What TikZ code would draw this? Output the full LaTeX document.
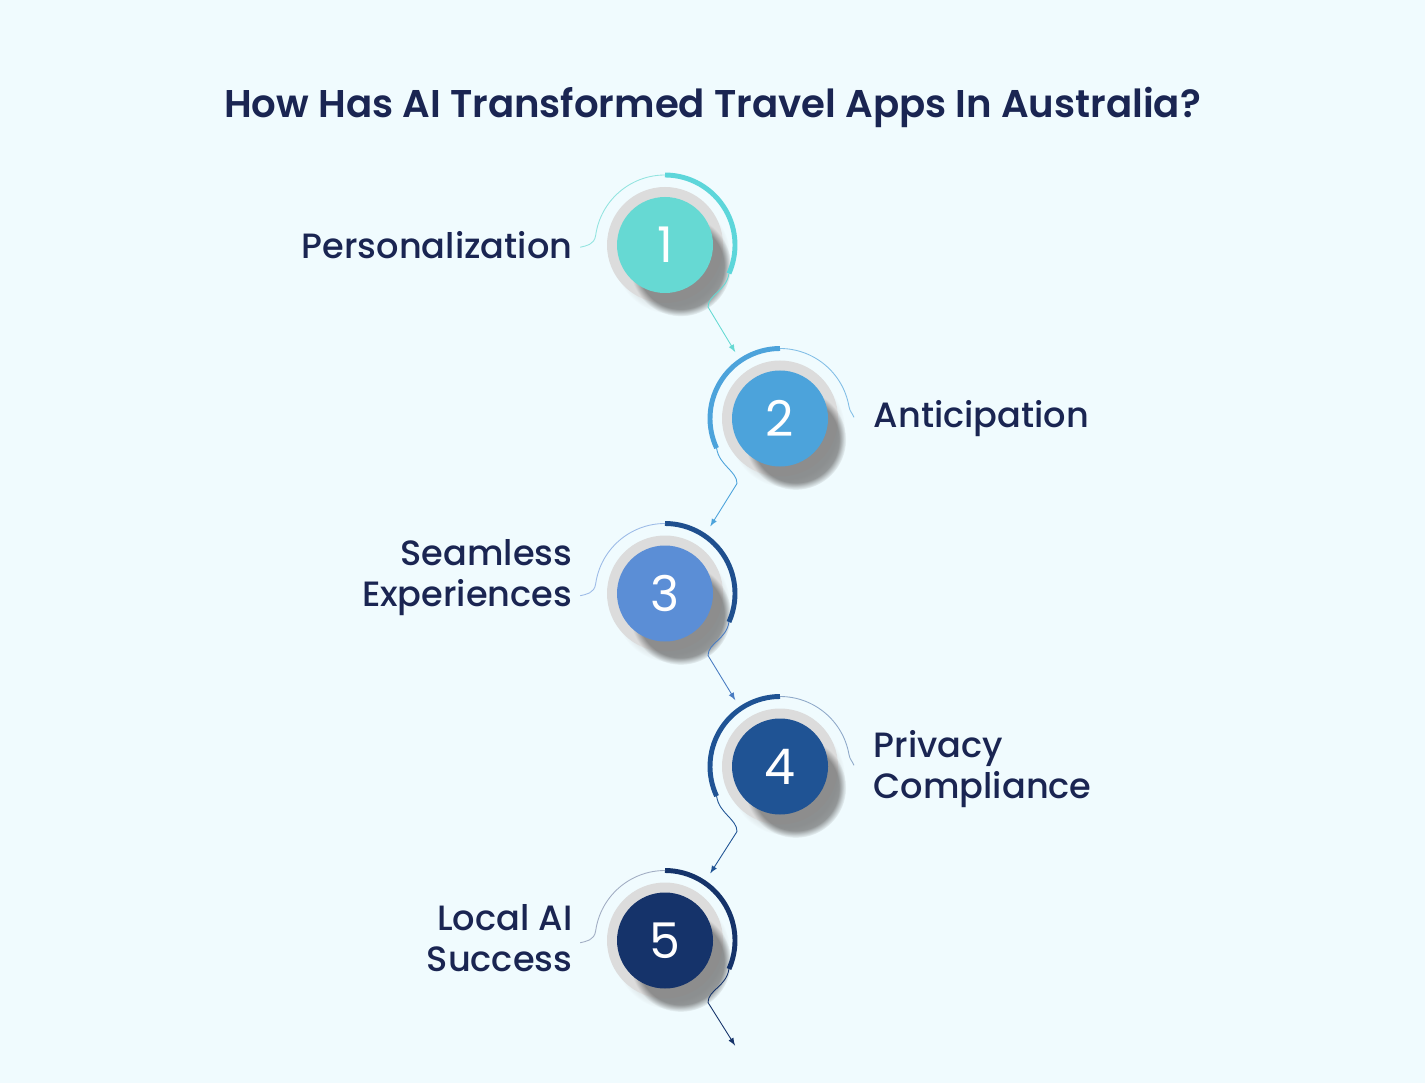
\documentclass[tikz,border=0pt]{standalone}
\usepackage{fontspec}
\setmainfont{Poppins}[UprightFont=* Medium, BoldFont=* SemiBold]
\newfontfamily\numfont{Poppins}
\usetikzlibrary{positioning, calc, shadows, arrows}
\definecolor{bgcol}{HTML}{F0FBFE}
\definecolor{navy}{HTML}{1A2552}
\definecolor{ringgray}{HTML}{DCDCDC}
\definecolor{colone}{HTML}{66D9D3}
\definecolor{arcone}{HTML}{5DD6DA}
\definecolor{coltwo}{HTML}{4CA3DB}
\definecolor{colthree}{HTML}{5B8ED6}
\definecolor{arcthree}{HTML}{1F4F8E}
\definecolor{colfour}{HTML}{1F5394}
\definecolor{colfive}{HTML}{15336A}
\tikzstyle{ring} = [circle, fill=ringgray, minimum size=2.32cm, inner sep=0pt, circular drop shadow={shadow xshift=.14cm, shadow yshift=-.22cm, shadow scale=1, opacity=.35, fill=black!30}]
\tikzstyle{disc} = [circle, minimum size=1.92cm, inner sep=0pt, text=white, font=\numfont\fontsize{28}{28}\selectfont, circular drop shadow={shadow xshift=.3cm, shadow yshift=-.4cm, shadow scale=1.05, opacity=.6, fill=black!65}]
\tikzstyle{lefttext} = [align=right, text=navy, inner sep=0pt, font=\fontsize{20}{23.4}\selectfont]
\tikzstyle{righttext} = [align=left, text=navy, inner sep=0pt, font=\fontsize{20}{23.4}\selectfont]
\tikzstyle{bigarc} = [line width=2.8pt]
\tikzstyle{thinarc} = [line width=0.5pt]
\tikzstyle{arrow} = [line width=0.5pt, ->, >=latex]

\begin{document}
\begin{tikzpicture}

\fill [bgcol] (0,0) rectangle (28.5,-21.66);
\useasboundingbox (0,0) rectangle (28.5,-21.66);

\node (title) at (14.25,-2.14) [text=navy, font=\bfseries\fontsize{22}{26}\selectfont] {How Has AI Transformed Travel Apps In Australia?};

\node (ring1) at (13.3,-4.9) [ring] {};
\node (c1) at (ring1) [disc, fill=colone] {1};
\node (ring2) [ring, on grid, below right=3.47cm and 2.3cm of ring1] {};
\node (c2) at (ring2) [disc, fill=coltwo] {2};
\node (ring3) [ring, on grid, below left=3.5cm and 2.3cm of ring2] {};
\node (c3) at (ring3) [disc, fill=colthree] {3};
\node (ring4) [ring, on grid, below right=3.46cm and 2.3cm of ring3] {};
\node (c4) at (ring4) [disc, fill=colfour] {4};
\node (ring5) [ring, on grid, below left=3.48cm and 2.3cm of ring4] {};
\node (c5) at (ring5) [disc, fill=colfive] {5};

\node (t1) [lefttext, left=0.88cm of c1] {Personalization};
\node (t2) [righttext, right=0.9cm of c2] {Anticipation};
\node (t3) [lefttext, left=0.88cm of c3, yshift=0.32cm] {Seamless\\Experiences};
\node (t4) [righttext, right=0.9cm of c4, yshift=-0.06cm] {Privacy\\Compliance};
\node (t5) [lefttext, left=0.88cm of c5, yshift=0.04cm] {Local AI\\Success};

% arcs round the discs
\draw [bigarc, arcone] ($(c1)+(90:1.4)$) arc (90:-24:1.4);
\draw [thinarc, colone!70] ($(c1)+(90:1.4)$) arc (90:172:1.4) .. controls +(-98:0.2) and +(15:0.12) .. ++(-0.31,-0.24);
\draw [bigarc, coltwo] ($(c2)+(90:1.4)$) arc (90:205:1.4);
\draw [thinarc, coltwo!70] ($(c2)+(90:1.4)$) arc (90:10:1.4) .. controls +(-80:0.12) and +(110:0.1) .. ++(0.1,-0.22);
\draw [bigarc, arcthree] ($(c3)+(90:1.4)$) arc (90:-24:1.4);
\draw [thinarc, colthree!60] ($(c3)+(90:1.4)$) arc (90:172:1.4) .. controls +(-98:0.2) and +(15:0.12) .. ++(-0.31,-0.24);
\draw [bigarc, colfour] ($(c4)+(90:1.4)$) arc (90:205:1.4);
\draw [thinarc, colfour!50] ($(c4)+(90:1.4)$) arc (90:10:1.4) .. controls +(-80:0.12) and +(110:0.1) .. ++(0.1,-0.22);
\draw [bigarc, colfive] ($(c5)+(90:1.4)$) arc (90:-24:1.4);
\draw [thinarc, colfive!40] ($(c5)+(90:1.4)$) arc (90:172:1.4) .. controls +(-98:0.2) and +(15:0.12) .. ++(-0.31,-0.24);

\coordinate (e1) at ($(c1)+(-24:1.4)$);
\coordinate (w1) at ($(c1)+(0.86,-1.24)$);
\coordinate (e2) at ($(c2)+(205:1.4)$);
\coordinate (w2) at ($(c2)+(-0.86,-1.3)$);
\coordinate (e3) at ($(c3)+(-24:1.4)$);
\coordinate (w3) at ($(c3)+(0.86,-1.24)$);
\coordinate (e4) at ($(c4)+(205:1.4)$);
\coordinate (w4) at ($(c4)+(-0.86,-1.3)$);
\coordinate (e5) at ($(c5)+(-24:1.4)$);
\coordinate (w5) at ($(c5)+(0.86,-1.24)$);
\coordinate (tend) at ($(c5)+(1.4,-2.1)$);

\draw [arrow, colone] (e1) .. controls +(-0.05,-0.35) and +(0,0.25) .. (w1) -- ($(c2)+(124:1.6)$);
\draw [arrow, coltwo] (e2) .. controls +(0.05,-0.35) and +(0,0.25) .. (w2) -- ($(c3)+(56:1.62)$);
\draw [arrow, colthree!70!colfour] (e3) .. controls +(-0.05,-0.35) and +(0,0.25) .. (w3) -- ($(c4)+(124:1.6)$);
\draw [arrow, colfour] (e4) .. controls +(0.05,-0.35) and +(0,0.25) .. (w4) -- ($(c5)+(56:1.62)$);
\draw [arrow, colfive] (e5) .. controls +(-0.05,-0.35) and +(0,0.25) .. (w5) -- (tend);

\end{tikzpicture}
\end{document}
